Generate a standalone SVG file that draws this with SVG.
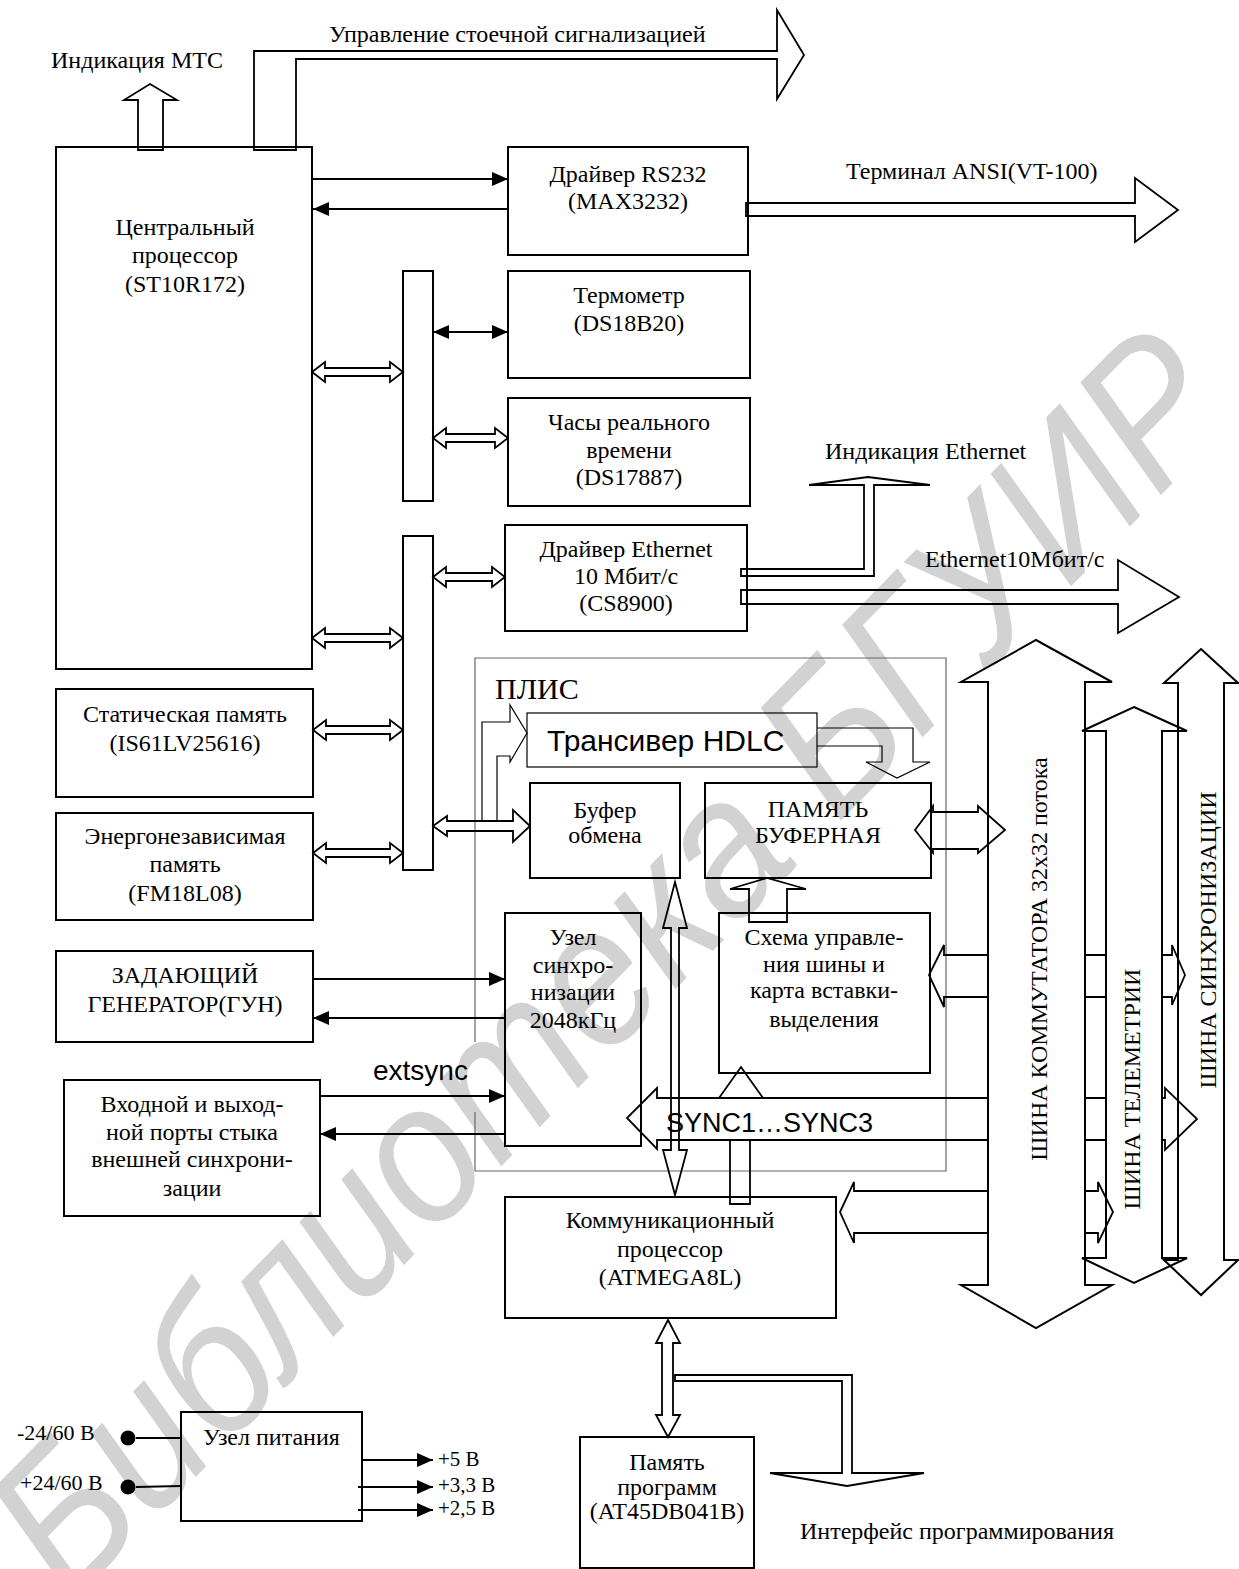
<svg xmlns="http://www.w3.org/2000/svg" width="1239" height="1569" viewBox="0 0 1239 1569">
<style>
.b{fill:none;stroke:#000;stroke-width:2}
.h{fill:none;stroke:#000;stroke-width:1.8;stroke-linejoin:miter}
.th{fill:none;stroke:#000;stroke-width:1.2}
.ln{fill:none;stroke:#000;stroke-width:2}
.t{font-family:"Liberation Serif","Times New Roman",serif;font-size:24px;fill:#000}
.c{text-anchor:middle}
.s{font-family:"Liberation Sans",Arial,sans-serif}
.wm{font-family:"Liberation Sans",Arial,sans-serif;font-style:italic;font-size:198px;fill:#d2d2d2}
</style>
<defs>
<marker id="ah" viewBox="0 0 16 14" refX="16" refY="7" markerWidth="16" markerHeight="14" markerUnits="userSpaceOnUse" orient="auto-start-reverse"><path d="M0,0 L16,7 L0,14 z" fill="#000"/></marker>
</defs>
<rect width="1239" height="1569" fill="#fff"/>
<text class="wm" transform="translate(70,1605) rotate(-45.5)" textLength="1670" lengthAdjust="spacingAndGlyphs">Библиотека БГУИР</text>

<g id="cpu"><rect class="b" x="56" y="147" width="256" height="522"/>
<text class="t c" x="185" y="235">Центральный</text><text class="t c" x="185" y="263">процессор</text><text class="t c" x="185" y="292">(ST10R172)</text></g>
<g id="rs232"><rect class="b" x="508" y="147" width="240" height="108"/>
<text class="t c" x="628" y="182">Драйвер RS232</text><text class="t c" x="628" y="209">(MAX3232)</text></g>
<g id="bus1"><rect class="b" x="403" y="271" width="30" height="230"/></g>
<g id="bus2"><rect class="b" x="403" y="536" width="30" height="334"/></g>
<g id="thermo"><rect class="b" x="508" y="271" width="242" height="107"/>
<text class="t c" x="629" y="303">Термометр</text><text class="t c" x="629" y="331">(DS18B20)</text></g>
<g id="clock"><rect class="b" x="508" y="398" width="242" height="108"/>
<text class="t c" x="629" y="430">Часы реального</text><text class="t c" x="629" y="458">времени</text><text class="t c" x="629" y="485">(DS17887)</text></g>
<g id="eth"><rect class="b" x="505" y="525" width="242" height="106"/>
<text class="t c" x="626" y="557">Драйвер Ethernet</text><text class="t c" x="626" y="584">10 Мбит/с</text><text class="t c" x="626" y="611">(CS8900)</text></g>
<g id="sram"><rect class="b" x="56" y="689" width="257" height="108"/>
<text class="t c" x="185" y="722">Статическая память</text><text class="t c" x="185" y="751">(IS61LV25616)</text></g>
<g id="nvram"><rect class="b" x="56" y="813" width="257" height="107"/>
<text class="t c" x="185" y="844">Энергонезависимая</text><text class="t c" x="185" y="872">память</text><text class="t c" x="185" y="901">(FM18L08)</text></g>
<g id="gen"><rect class="b" x="56" y="951" width="257" height="91"/>
<text class="t c" x="185" y="983">ЗАДАЮЩИЙ</text><text class="t c" x="185" y="1012">ГЕНЕРАТОР(ГУН)</text></g>
<g id="extport"><rect class="b" x="64" y="1080" width="256" height="136"/>
<text class="t c" x="192" y="1112">Входной и выход-</text><text class="t c" x="192" y="1140">ной порты стыка</text><text class="t c" x="192" y="1167">внешней синхрони-</text><text class="t c" x="192" y="1196">зации</text></g>

<g id="plis"><path d="M475,1042 V658 H946 V1171 H475 V1112" fill="none" stroke="#666" stroke-width="1.2"/>
<text class="t" x="495" y="699" style="font-size:30px">ПЛИС</text></g>
<g id="hdlc"><rect class="th" x="527" y="713" width="290" height="54"/>
<text class="t s" x="547" y="751" style="font-size:30px">Трансивер HDLC</text></g>
<g id="bufer"><rect class="b" x="530" y="783" width="150" height="95"/>
<text class="t c" x="605" y="818">Буфер</text><text class="t c" x="605" y="843">обмена</text></g>
<g id="pamyat"><rect class="b" x="705" y="783" width="226" height="95"/>
<text class="t c" x="818" y="817">ПАМЯТЬ</text><text class="t c" x="818" y="843">БУФЕРНАЯ</text></g>
<g id="sync-node"><rect class="b" x="505" y="913" width="136" height="233"/>
<text class="t c" x="573" y="945">Узел</text><text class="t c" x="573" y="973">синхро-</text><text class="t c" x="573" y="1000">низации</text><text class="t c" x="573" y="1028">2048кГц</text></g>
<g id="schema"><rect class="b" x="719" y="913" width="211" height="160"/>
<text class="t c" x="824" y="945">Схема управле-</text><text class="t c" x="824" y="972">ния шины и</text><text class="t c" x="824" y="998">карта вставки-</text><text class="t c" x="824" y="1027">выделения</text></g>
<g id="commproc"><rect class="b" x="505" y="1197" width="331" height="121"/>
<text class="t c" x="670" y="1228">Коммуникационный</text><text class="t c" x="670" y="1257">процессор</text><text class="t c" x="670" y="1285">(ATMEGA8L)</text></g>
<g id="progmem"><rect class="b" x="580" y="1437" width="174" height="131"/>
<text class="t c" x="667" y="1470">Память</text><text class="t c" x="667" y="1495">программ</text><text class="t c" x="667" y="1519">(AT45DB041B)</text></g>
<g id="power"><rect class="b" x="181" y="1412" width="181" height="109"/>
<text class="t" x="203" y="1445">Узел питания</text>
<circle cx="128" cy="1438" r="7.5" fill="#000"/><circle cx="128" cy="1487" r="7.5" fill="#000"/>
<text class="t" x="17" y="1440" style="font-size:22px">-24/60 В</text><text class="t" x="20" y="1490" style="font-size:22px">+24/60 В</text>
<text class="t" x="438" y="1466" style="font-size:21px">+5 В</text><text class="t" x="438" y="1492" style="font-size:21px">+3,3 В</text><text class="t" x="438" y="1515" style="font-size:21px">+2,5 В</text></g>

<g id="bus-komm"><path class="b" d="M1036,640 L1112,682 H1085 V1285 H1112 L1036,1328 L961,1285 H988 V682 H961 Z"/>
<text class="t c" transform="translate(1047,959) rotate(-90)">ШИНА КОММУТАТОРА 32х32 потока</text></g>
<g id="bus-tele"><path class="b" d="M1134,707 L1187,731 H1162 V1258 H1187 L1134,1283 L1082,1258 H1106 V731 H1082 Z"/>
<text class="t c" transform="translate(1140,1089) rotate(-90)">ШИНА ТЕЛЕМЕТРИИ</text></g>
<g id="bus-sync"><path class="b" d="M1201,649 L1238,683 H1224 V1260 H1238 L1201,1295 L1164,1260 H1178 V683 H1164 Z"/>
<text class="t c" transform="translate(1216,940) rotate(-90)">ШИНА СИНХРОНИЗАЦИИ</text></g>

<g id="connectors">
<path class="h" d="M138,150 V100 H124 L150,84 L177,100 H163 V150 Z"/>
<text class="t" x="51" y="68">Индикация МТС</text>
<path class="h" d="M254,150 V51 H777 V10 L804,55 L777,99 V59 H296 V150 Z"/>
<text class="t" x="329" y="42">Управление стоечной сигнализацией</text>
<line class="ln" x1="312" y1="179" x2="508" y2="179" marker-end="url(#ah)"/>
<line class="ln" x1="508" y1="209" x2="313" y2="209" marker-end="url(#ah)"/>
<path class="h" d="M746,203 H1135 V178 L1178,210 L1135,242 V216 H746 Z"/>
<text class="t" x="846" y="179">Терминал ANSI(VT-100)</text>
<line class="ln" x1="433" y1="332" x2="508" y2="332" marker-start="url(#ah)" marker-end="url(#ah)"/>
<polygon class="h" points="312,372 325,362 325,368 390,368 390,362 403,372 390,382 390,376 325,376 325,382"/>
<polygon class="h" points="433,438 446,428 446,434 495,434 495,428 508,438 495,448 495,442 446,442 446,448"/>
<polygon class="h" points="433,577 446,567 446,573 492,573 492,567 505,577 492,587 492,581 446,581 446,587"/>
<polygon class="h" points="312,638 325,628 325,634 390,634 390,628 403,638 390,648 390,642 325,642 325,648"/>
<polygon class="h" points="313,730 326,720 326,726 390,726 390,720 403,730 390,740 390,734 326,734 326,740"/>
<polygon class="h" points="313,853 326,843 326,849 390,849 390,843 403,853 390,863 390,857 326,857 326,863"/>
<polygon class="h" points="433,826 447,816 447,821 513,821 513,810 530,826 513,842 513,831 447,831 447,836"/>
<path class="h" d="M741,569 H864 V485 H809 L868,477 L930,485 H874 V576 H741 Z"/>
<text class="t" x="825" y="459">Индикация Ethernet</text>
<path class="h" d="M741,590 H1118 V560 L1179,597 L1118,633 V604 H741 Z"/>
<text class="t" x="925" y="567">Ethernet10Мбит/с</text>
<path class="th" d="M482,821 V722 H510 V705 L527,733 L510,762 V756 H497 V821"/>
<path class="th" d="M817,728 H913 V762 H930 L897,778 L866,762 H882 V746 H817"/>
<path class="h" d="M915,830 L933,806 V812 H978 V806 L1005,830 L978,853 V849 H933 V853 Z"/>
<path class="h" d="M749,922 V889 H730 L767,878 L806,889 H787 V922 Z"/>
<path class="h" d="M675,882 L687,928 H679 V1150 H687 L675,1195 L663,1150 H671 V928 H663 Z"/>
<path class="h" d="M988,955 H944 V945 L929,975 L944,1007 V997 H988 M1085,955 H1106 M1085,997 H1106 M1162,955 H1172 V945 L1185,975 L1172,1005 V997 H1162"/>
<path class="h" d="M988,1098 H657 V1088 L627,1118 L657,1149 V1140 H988 M1085,1098 H1106 M1085,1140 H1106 M1162,1098 H1165 V1088 L1197,1119 L1165,1150 V1140 H1162"/>
<text class="t s" x="666" y="1132" style="font-size:27px">SYNC1…SYNC3</text>
<path class="h" d="M719,1098 L741,1067 L763,1098"/>
<path class="h" d="M730,1140 V1204 H750 V1140"/>
<path class="h" d="M988,1191 H854 V1182 L840,1212 L854,1243 V1233 H988 M1085,1191 H1098 V1182 L1113,1212 L1098,1243 V1233 H1085"/>
<line class="ln" x1="313" y1="979" x2="505" y2="979" marker-end="url(#ah)"/>
<line class="ln" x1="505" y1="1018" x2="313" y2="1018" marker-end="url(#ah)"/>
<line class="ln" x1="320" y1="1096" x2="505" y2="1096" marker-end="url(#ah)"/>
<line class="ln" x1="505" y1="1134" x2="320" y2="1134" marker-end="url(#ah)"/>
<text class="t s" x="373" y="1080" style="font-size:28px">extsync</text>
<path class="h" d="M668,1320 L680,1343 H673 V1415 H680 L668,1437 L656,1415 H662 V1343 H656 Z"/>
<path class="h" d="M675,1375 H852 V1473 H924 L847,1486 L770,1473 H842 V1381 H675 Z"/>
<text class="t" x="800" y="1539">Интерфейс программирования</text>
<line class="ln" x1="136" y1="1438" x2="181" y2="1438"/>
<line class="ln" x1="136" y1="1487" x2="181" y2="1486"/>
<line class="ln" x1="362" y1="1460" x2="433" y2="1460" marker-end="url(#ah)"/>
<line class="ln" x1="358" y1="1487" x2="433" y2="1487" marker-end="url(#ah)"/>
<line class="ln" x1="358" y1="1510" x2="433" y2="1510" marker-end="url(#ah)"/>
</g>
</svg>
